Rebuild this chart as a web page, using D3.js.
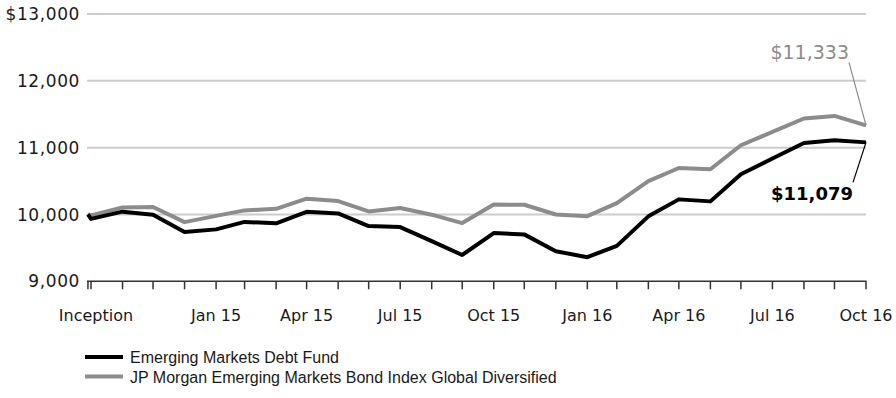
<!DOCTYPE html>
<html>
<head>
<meta charset="utf-8">
<script src="https://cdn.jsdelivr.net/npm/d3@7"></script>
<style>
  html, body { margin: 0; padding: 0; background: #fff; }
  svg { display: block; }
</style>
</head>
<body>
<svg id="chart" width="896" height="398"></svg>
<script>
// ---- data ----
const dates = ["2014-09-27","2014-09-30","2014-10-31","2014-11-30","2014-12-31",
  "2015-01-31","2015-02-28","2015-03-31","2015-04-30","2015-05-31","2015-06-30",
  "2015-07-31","2015-08-31","2015-09-30","2015-10-31","2015-11-30","2015-12-31",
  "2016-01-31","2016-02-29","2016-03-31","2016-04-30","2016-05-31","2016-06-30",
  "2016-07-31","2016-08-31","2016-09-30","2016-10-31"];
const fundValues = [10000, 9934, 10042, 9997, 9739, 9777, 9889, 9867, 10039, 10016,
  9826, 9811, 9601, 9394, 9721, 9702, 9451, 9361, 9530, 9972, 10226, 10196, 10601,
  10837, 11070, 11111, 11079];
const indexValues = [10000, 9985, 10106, 10111, 9886, 9979, 10061, 10084, 10237, 10201,
  10046, 10096, 9997, 9871, 10148, 10145, 10000, 9975, 10171, 10500, 10696, 10676, 11036,
  11235, 11436, 11475, 11333];
const yTicks = [9000, 10000, 11000, 12000, 13000];
const xLabelDates = ["2014-09-27","2015-01-31","2015-04-30","2015-07-31","2015-10-31",
  "2016-01-31","2016-04-30","2016-07-31","2016-10-31"];
const xLabels = ["Inception","Jan 15","Apr 15","Jul 15","Oct 15","Jan 16","Apr 16","Jul 16","Oct 16"];
const seriesNames = ["Emerging Markets Debt Fund",
  "JP Morgan Emerging Markets Bond Index Global Diversified"];
const seriesColors = ["#000000", "#8c8c8c"];

// ---- chart ----
const parse = d3.utcParse("%Y-%m-%d");
const dts = dates.map(parse);
const svg = d3.select("#chart");

const x = d3.scaleUtc().domain([dts[1], dts[dts.length - 1]]).range([91, 866]);
const y = d3.scaleLinear().domain([9000, 13000]).range([281.3, 14]);
const x0 = 87;

// gridlines
svg.append("g").selectAll("line")
  .data(yTicks.filter(v => v > 9000))
  .join("line")
  .attr("x1", x0).attr("x2", x(dts[dts.length - 1]))
  .attr("y1", d => y(d)).attr("y2", d => y(d))
  .attr("stroke", "#cccccc").attr("stroke-width", 2);

// y labels
const fmt = d3.format(",");
svg.append("g").selectAll("text")
  .data(yTicks)
  .join("text")
  .attr("x", 80).attr("y", d => y(d))
  .attr("dy", "0.36em")
  .attr("text-anchor", "end")
  .attr("font-family", "DejaVu Sans, sans-serif")
  .attr("font-size", 17)
  .attr("letter-spacing", 0.6)
  .attr("fill", "#1a1a1a")
  .text(d => (d === 13000 ? "$" : "") + fmt(d));

// x axis
const xAxisG = svg.append("g").attr("transform", `translate(0,${y(9000)})`);
xAxisG.append("line")
  .attr("x1", x0).attr("x2", x(dts[dts.length - 1]) + 0.5)
  .attr("stroke", "#333").attr("stroke-width", 1.5);
xAxisG.selectAll("line.tick")
  .data(dts)
  .join("line").attr("class", "tick")
  .attr("x1", d => x(d)).attr("x2", d => x(d))
  .attr("y1", 0).attr("y2", 8)
  .attr("stroke", "#333").attr("stroke-width", 1.5);
xAxisG.selectAll("text")
  .data(xLabelDates.map(parse))
  .join("text")
  .attr("x", (d, i) => x(d) + (i === 0 ? 8 : 0))
  .attr("y", 39.5)
  .attr("text-anchor", "middle")
  .attr("font-family", "DejaVu Sans, sans-serif")
  .attr("font-size", 16)
  .attr("fill", "#1a1a1a")
  .text((d, i) => xLabels[i]);

// lines
const line = d3.line().x((d, i) => x(dts[i])).y(d => y(d));
[indexValues, fundValues].forEach((vals, j) => {
  svg.append("path")
    .datum(vals)
    .attr("d", line)
    .attr("fill", "none")
    .attr("stroke", seriesColors[1 - j])
    .attr("stroke-width", 4)
    .attr("stroke-linejoin", "round");
});

// end annotations
const lx = x(dts[dts.length - 1]);
const lastIdx = indexValues[indexValues.length - 1];
const lastFund = fundValues[fundValues.length - 1];
svg.append("line")
  .attr("x1", lx - 17).attr("y1", y(lastIdx) - 63)
  .attr("x2", lx).attr("y2", y(lastIdx))
  .attr("stroke", "#8c8c8c").attr("stroke-width", 1.2);
svg.append("text")
  .attr("x", lx - 17).attr("y", y(lastIdx) - 66)
  .attr("text-anchor", "end")
  .attr("font-family", "DejaVu Sans, sans-serif")
  .attr("font-size", 19)
  .attr("fill", "#8c8c8c")
  .text("$" + fmt(lastIdx));
svg.append("line")
  .attr("x1", lx - 13).attr("y1", y(lastFund) + 40)
  .attr("x2", lx).attr("y2", y(lastFund))
  .attr("stroke", "#000").attr("stroke-width", 1.2);
svg.append("text")
  .attr("x", lx - 13).attr("y", y(lastFund) + 58)
  .attr("text-anchor", "end")
  .attr("font-family", "DejaVu Sans, sans-serif")
  .attr("font-weight", "bold")
  .attr("font-size", 18)
  .attr("fill", "#000")
  .text("$" + fmt(lastFund));

// legend
const lg = svg.append("g");
seriesNames.forEach((name, i) => {
  const yy = 357 + i * 19.5;
  lg.append("line")
    .attr("x1", 85).attr("x2", 123)
    .attr("y1", yy).attr("y2", yy)
    .attr("stroke", seriesColors[i]).attr("stroke-width", 4);
  lg.append("text")
    .attr("x", 130).attr("y", yy + 6)
    .attr("font-family", "Liberation Sans, Arial, sans-serif")
    .attr("font-size", 16)
    .attr("fill", "#1a1a1a")
    .text(name);
});
</script>
</body>
</html>
